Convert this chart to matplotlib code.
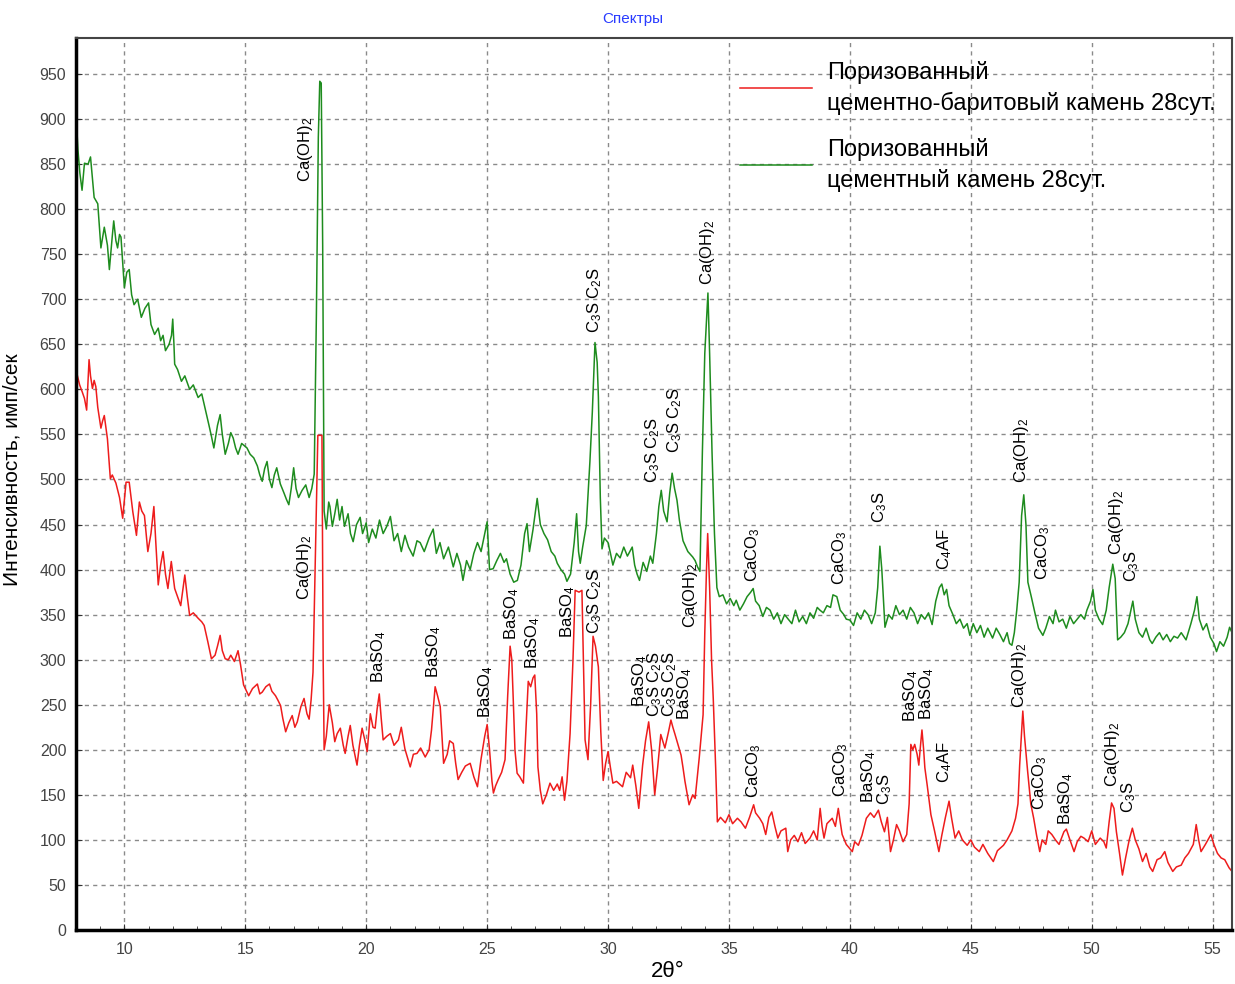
import matplotlib
matplotlib.use('Agg')
import matplotlib.pyplot as plt
from matplotlib.ticker import MultipleLocator

plt.rcParams['font.family'] = ['Liberation Sans', 'DejaVu Sans']
plt.rcParams['mathtext.default'] = 'regular'

# green: cement stone (2theta, intensity)
green_x = [8.0, 8.08, 8.16, 8.25, 8.35, 8.5, 8.6, 8.75, 8.9, 9.03, 9.17, 9.3, 9.38, 9.5, 9.56, 9.65, 9.72, 9.8, 9.86,
           10.0, 10.1, 10.2, 10.3, 10.4, 10.55, 10.7, 10.85, 11.0, 11.1, 11.25, 11.4, 11.5, 11.6, 11.7, 11.85, 11.95,
           12.0, 12.05, 12.08, 12.2, 12.36, 12.5, 12.7, 12.85, 13.05, 13.2, 13.33, 13.5, 13.6, 13.7, 13.85, 13.96,
           14.05, 14.17, 14.3, 14.4, 14.5, 14.6, 14.7, 14.85, 15.07, 15.2, 15.35, 15.5, 15.6, 15.7, 15.8, 15.9,
           16.0, 16.1, 16.2, 16.3, 16.45, 16.6, 16.7, 16.8, 16.9, 17.0, 17.1, 17.2, 17.35, 17.5, 17.64, 17.75, 17.85,
           17.94, 18.02, 18.08, 18.14, 18.2, 18.26, 18.35, 18.45, 18.5, 18.6, 18.7, 18.8, 18.9, 19.0, 19.1, 19.25,
           19.35, 19.46, 19.6, 19.75, 19.85, 20.0, 20.1, 20.25, 20.4, 20.55, 20.7, 20.85, 21.0, 21.15, 21.3, 21.45,
           21.6, 21.75, 21.94, 22.1, 22.23, 22.4, 22.6, 22.77, 22.9, 23.05, 23.2, 23.4, 23.6, 23.75, 23.9, 24.0,
           24.15, 24.3, 24.45, 24.6, 24.75, 24.9, 25.0, 25.1, 25.25, 25.4, 25.55, 25.7, 25.8, 25.95, 26.1, 26.25,
           26.4, 26.55, 26.65, 26.75, 26.9, 27.07, 27.2, 27.35, 27.5, 27.65, 27.8, 27.9, 28.05, 28.2, 28.3, 28.45,
           28.6, 28.7, 28.78, 28.85, 28.95, 29.1, 29.25, 29.35, 29.46, 29.55, 29.6, 29.68, 29.75, 29.85, 30.0,
           30.1, 30.2, 30.35, 30.5, 30.65, 30.8, 31.0, 31.1, 31.2, 31.3, 31.45, 31.6, 31.75, 31.85, 32.0, 32.1,
           32.2, 32.3, 32.44, 32.55, 32.65, 32.75, 32.85, 32.95, 33.1, 33.3, 33.5, 33.6, 33.7, 33.8, 33.9, 34.0,
           34.13, 34.2, 34.3, 34.4, 34.5, 34.6, 34.75, 34.9, 35.05, 35.2, 35.3, 35.45, 35.6, 35.75, 35.9, 36.0,
           36.1, 36.25, 36.4, 36.55, 36.7, 36.85, 37.0, 37.15, 37.3, 37.45, 37.6, 37.75, 37.9, 38.05, 38.2, 38.35,
           38.5, 38.65, 38.76, 38.9, 39.05, 39.2, 39.3, 39.46, 39.6, 39.75, 39.85, 40.0, 40.15, 40.3, 40.45, 40.6,
           40.75, 40.9, 41.05, 41.15, 41.24, 41.32, 41.45, 41.6, 41.75, 41.9, 42.05, 42.2, 42.35, 42.5, 42.65,
           42.8, 42.95, 43.1, 43.25, 43.4, 43.55, 43.7, 43.8, 43.9, 44.0, 44.1, 44.26, 44.4, 44.55, 44.7, 44.85,
           44.96, 45.1, 45.25, 45.4, 45.55, 45.7, 45.9, 46.05, 46.2, 46.35, 46.5, 46.6, 46.7, 46.8, 46.9, 47.0,
           47.1, 47.19, 47.28, 47.36, 47.5, 47.65, 47.8, 47.98, 48.1, 48.25, 48.4, 48.5, 48.65, 48.8, 48.95, 49.1,
           49.25, 49.4, 49.55, 49.7, 49.8, 49.95, 50.05, 50.15, 50.3, 50.45, 50.6, 50.72, 50.87, 50.97, 51.07,
           51.2, 51.35, 51.5, 51.7, 51.8, 51.95, 52.1, 52.25, 52.4, 52.5, 52.65, 52.8, 52.95, 53.1, 53.25, 53.4,
           53.55, 53.7, 53.9, 54.1, 54.25, 54.35, 54.45, 54.6, 54.75, 54.9, 55.05, 55.16, 55.3, 55.45, 55.6, 55.7,
           55.8]
green_y = [907, 866, 840, 821, 851, 850, 858, 813, 806, 757, 780, 760, 733, 770, 787, 765, 757, 772, 769,
           713, 730, 733, 705, 694, 700, 680, 690, 696, 672, 661, 668, 654, 660, 643, 650, 660,
           678, 650, 628, 622, 609, 615, 600, 605, 591, 595, 580, 560, 548, 535, 560, 572,
           550, 528, 540, 552, 546, 535, 528, 540, 535, 528, 524, 515, 505, 498, 512, 520,
           500, 491, 505, 513, 495, 485, 478, 472, 490, 513, 490, 480, 488, 494, 480, 490, 506,
           683, 880, 942, 940, 760, 465, 445, 475, 470, 448, 462, 478, 455, 470, 448, 462,
           440, 431, 450, 458, 440, 452, 430, 445, 435, 455, 440, 448, 459, 432, 440, 420,
           438, 425, 415, 432, 430, 420, 435, 445, 418, 430, 412, 425, 403, 418, 405, 388,
           410, 400, 418, 430, 420, 440, 453, 400, 401, 410, 418, 408, 412, 395, 386, 388,
           405, 440, 451, 420, 445, 479, 450, 440, 433, 420, 415, 407, 400, 395, 387, 395,
           430, 462, 420, 407, 425, 449, 520, 575, 652, 630, 592, 480, 423, 435, 430,
           418, 405, 418, 413, 425, 415, 425, 405, 395, 388, 408, 398, 415, 407, 440, 470,
           488, 465, 453, 485, 507, 490, 477, 455, 432, 420, 414, 410, 403, 398, 530, 640,
           707, 640, 530, 440, 380, 370, 372, 362, 368, 360, 366, 355, 362, 370, 375, 379,
           365, 360, 348, 358, 355, 345, 352, 340, 350, 345, 340, 355, 342, 348, 340, 352,
           346, 358, 355, 352, 360, 358, 372, 370, 355, 350, 345, 344, 338, 352, 345, 355,
           350, 340, 352, 380, 426, 400, 336, 350, 345, 360, 350, 355, 345, 358, 352,
           340, 350, 345, 352, 339, 365, 380, 384, 372, 378, 360, 350, 340, 345, 335, 340,
           327, 340, 330, 338, 325, 335, 324, 335, 328, 320, 330, 318, 316, 330, 355, 386,
           460, 483, 450, 386, 370, 352, 335, 327, 335, 348, 340, 355, 342, 345, 335, 348,
           340, 345, 350, 345, 355, 365, 378, 355, 345, 339, 355, 380, 406, 390, 322,
           325, 330, 340, 365, 345, 330, 325, 335, 322, 318, 325, 330, 322, 328, 320, 326,
           324, 330, 322, 340, 355, 370, 345, 333, 340, 325, 318, 309, 320, 315, 325, 336,
           330]

# red: cement-barite stone
red_x = [8.0, 8.05, 8.15, 8.26, 8.35, 8.44, 8.54, 8.6, 8.68, 8.75, 8.82, 8.9, 9.03, 9.1, 9.17, 9.3, 9.42, 9.5,
         9.65, 9.8, 9.93, 10.07, 10.2, 10.35, 10.5, 10.62, 10.72, 10.83, 10.97, 11.1, 11.22, 11.3, 11.4, 11.5,
         11.6, 11.7, 11.8, 11.94, 12.08, 12.2, 12.33, 12.5, 12.6, 12.7, 12.85, 13.05, 13.2, 13.3, 13.45, 13.6,
         13.75, 13.85, 13.96, 14.05, 14.17, 14.3, 14.4, 14.55, 14.7, 14.8, 14.93, 15.05, 15.14, 15.3, 15.5,
         15.6, 15.7, 15.85, 16.0, 16.1, 16.25, 16.35, 16.46, 16.55, 16.67, 16.8, 16.94, 17.05, 17.15, 17.3,
         17.43, 17.55, 17.64, 17.72, 17.8, 17.9, 18.0, 18.17, 18.22, 18.26, 18.35, 18.47, 18.6, 18.7, 18.8,
         18.93, 19.05, 19.13, 19.25, 19.34, 19.45, 19.62, 19.72, 19.83, 19.95, 20.04, 20.17, 20.28, 20.37,
         20.45, 20.54, 20.62, 20.7, 20.85, 21.0, 21.15, 21.33, 21.45, 21.6, 21.82, 21.95, 22.1, 22.25, 22.44,
         22.6, 22.7, 22.85, 22.95, 23.06, 23.2, 23.35, 23.45, 23.6, 23.7, 23.8, 23.95, 24.1, 24.3, 24.45, 24.6,
         24.75, 24.9, 25.0, 25.1, 25.2, 25.26, 25.35, 25.46, 25.6, 25.74, 25.85, 25.95, 26.02, 26.08, 26.15,
         26.24, 26.35, 26.5, 26.6, 26.7, 26.8, 26.9, 26.97, 27.05, 27.1, 27.2, 27.3, 27.45, 27.6, 27.75, 27.9,
         28.0, 28.1, 28.2, 28.3, 28.43, 28.55, 28.64, 28.8, 28.92, 28.98, 29.05, 29.17, 29.28, 29.38, 29.48,
         29.6, 29.7, 29.8, 29.9, 30.0, 30.1, 30.2, 30.35, 30.6, 30.75, 30.93, 31.02, 31.15, 31.27, 31.43, 31.55,
         31.68, 31.8, 31.93, 32.05, 32.18, 32.35, 32.5, 32.6, 32.68, 32.77, 32.9, 33.02, 33.1, 33.18, 33.35,
         33.5, 33.6, 33.77, 33.85, 33.93, 34.0, 34.07, 34.12, 34.2, 34.28, 34.35, 34.45, 34.52, 34.65, 34.85,
         35.0, 35.15, 35.35, 35.5, 35.68, 35.85, 36.02, 36.1, 36.27, 36.4, 36.52, 36.65, 36.77, 36.9, 37.02,
         37.15, 37.35, 37.43, 37.55, 37.7, 37.85, 38.0, 38.15, 38.35, 38.5, 38.65, 38.77, 38.85, 38.93, 39.05,
         39.27, 39.4, 39.52, 39.6, 39.68, 39.85, 40.1, 40.2, 40.35, 40.5, 40.68, 40.85, 41.0, 41.18, 41.3,
         41.43, 41.55, 41.68, 41.8, 41.93, 42.05, 42.2, 42.35, 42.45, 42.52, 42.6, 42.68, 42.78, 42.85, 42.92,
         42.98, 43.05, 43.1, 43.2, 43.35, 43.5, 43.68, 43.8, 43.95, 44.1, 44.2, 44.35, 44.5, 44.65, 44.85, 45.0,
         45.15, 45.35, 45.5, 45.7, 45.93, 46.1, 46.35, 46.5, 46.7, 46.85, 46.95, 47.02, 47.1, 47.15, 47.22,
         47.35, 47.48, 47.6, 47.72, 47.85, 47.95, 48.1, 48.2, 48.35, 48.5, 48.65, 48.85, 48.95, 49.1, 49.27,
         49.4, 49.55, 49.68, 49.85, 50.0, 50.15, 50.35, 50.5, 50.6, 50.72, 50.82, 50.92, 51.02, 51.15, 51.27,
         51.4, 51.55, 51.68, 51.8, 51.95, 52.1, 52.25, 52.4, 52.52, 52.7, 52.85, 53.02, 53.15, 53.35, 53.5,
         53.7, 53.85, 54.0, 54.2, 54.32, 54.42, 54.52, 54.7, 54.93, 55.05, 55.2, 55.35, 55.5, 55.68, 55.8]
red_y = [657, 616, 605, 597, 590, 577, 633, 615, 601, 610, 603, 580, 557, 565, 571, 545, 501, 505,
         496, 480, 457, 497, 497, 464, 438, 475, 465, 460, 420, 440, 470, 430, 383, 405,
         420, 395, 379, 409, 379, 370, 360, 394, 370, 349, 352, 346, 342, 338, 320, 301,
         305, 315, 327, 310, 301, 300, 305, 298, 310, 295, 272, 265, 260, 268, 273,
         262, 264, 270, 273, 265, 260, 255, 249, 235, 220, 230, 238, 225, 231, 248,
         257, 240, 234, 255, 286, 416, 549, 549, 300, 200, 215, 250, 230, 209, 218,
         224, 205, 196, 215, 227, 205, 183, 205, 224, 210, 198, 240, 225, 224,
         245, 262, 235, 211, 215, 218, 205, 211, 225, 201, 181, 195, 196, 202, 192,
         200, 222, 270, 260, 248, 185, 195, 210, 207, 185, 167, 175, 182, 185, 170, 159,
         190, 215, 228, 200, 165, 152, 160, 167, 175, 189, 260, 315, 300, 256, 200,
         174, 170, 163, 220, 276, 270, 280, 283, 240, 181, 155, 140, 150, 163, 155, 162,
         155, 170, 144, 165, 218, 300, 377, 375, 377, 300, 211, 189, 250, 326, 315,
         292, 220, 166, 185, 198, 180, 163, 165, 159, 175, 169, 183, 160, 135, 183, 210,
         231, 200, 150, 180, 217, 202, 220, 233, 225, 217, 205, 194, 180, 165, 139,
         150, 146, 191, 215, 239, 330, 400, 440, 380, 300, 257, 180, 120, 125, 119,
         128, 118, 124, 120, 113, 125, 139, 130, 124, 118, 106, 125, 131, 115, 102,
         110, 113, 87, 100, 105, 98, 108, 96, 102, 110, 100, 135, 115, 102, 118,
         124, 115, 135, 120, 106, 95, 87, 98, 94, 105, 124, 130, 125, 133, 120,
         109, 125, 87, 100, 117, 110, 98, 106, 140, 206, 200, 206, 195, 183, 205,
         222, 200, 180, 160, 128, 110, 87, 105, 125, 143, 125, 102, 110, 100, 94, 100,
         92, 87, 95, 85, 76, 88, 94, 100, 110, 124, 140, 183, 220, 243, 215,
         176, 140, 124, 105, 87, 100, 95, 110, 106, 100, 95, 109, 112, 100, 87,
         98, 104, 102, 98, 110, 95, 102, 98, 91, 120, 141, 135, 109, 85, 61,
         80, 100, 113, 100, 90, 76, 85, 70, 65, 78, 80, 87, 75, 65, 70,
         72, 80, 85, 95, 117, 100, 87, 95, 106, 95, 85, 80, 78, 69, 65]

CAOH = 'Ca(OH)$_2$'
C3S = 'C$_3$S'
C3S_C2S = 'C$_3$S C$_2$S'
BASO = 'BaSO$_4$'
CACO = 'CaCO$_3$'
C4AF = 'C$_4$AF'

# peak labels: 2theta, bottom of text (intensity), phase
labels = [
    (17.48, 830, CAOH), (29.46, 663, C3S_C2S), (34.13, 716, CAOH), (31.86, 496, C3S_C2S),
    (32.77, 529, C3S_C2S), (35.99, 386, CACO), (39.59, 383, CACO), (41.24, 452, C3S),
    (43.93, 400, C4AF), (47.1, 496, CAOH), (47.98, 388, CACO), (51.03, 416, CAOH), (51.65, 386, C3S),
    (17.44, 366, CAOH), (20.5, 274, BASO), (22.77, 280, BASO), (24.92, 235, BASO), (26.03, 322, BASO),
    (26.9, 290, BASO), (28.35, 324, BASO), (29.46, 329, C3S_C2S), (33.39, 335, CAOH),
    (31.32, 248, BASO), (31.94, 236, C3S_C2S), (32.56, 236, C3S_C2S), (33.18, 233, BASO),
    (36.02, 146, CACO), (39.6, 148, CACO), (40.77, 141, BASO), (41.43, 139, C3S),
    (42.52, 231, BASO), (43.18, 233, BASO), (43.93, 163, C4AF), (47.0, 246, CAOH),
    (47.85, 133, CACO), (48.93, 117, BASO), (50.85, 159, CAOH), (51.52, 130, C3S),
]

fig = plt.figure(figsize=(12.35, 9.84), dpi=100)
ax = fig.add_axes([76 / 1235, 54 / 984, 1156 / 1235, 892 / 984])

ax.plot(red_x, red_y, color='#ee1c1c', lw=1.1,
        label='Поризованный\nцементно-баритовый камень 28сут.')
ax.plot(green_x, green_y, color='#1e8c1e', lw=1.1,
        label='Поризованный\nцементный камень 28сут.')

for x, y, t in labels:
    ax.text(x, y, t, rotation=90, ha='center', va='bottom', fontsize=12, color='black')

ax.set_xlim(8, 55.8)
ax.set_ylim(0, 990)
ax.xaxis.set_major_locator(MultipleLocator(5))
ax.xaxis.set_minor_locator(MultipleLocator(1))
ax.set_yticks(range(0, 1000, 50))
ax.tick_params(axis='both', which='major', labelsize=11.5, labelcolor='#444444',
               direction='in', length=4, color='#333333')
ax.tick_params(axis='x', which='major', pad=9)
ax.tick_params(axis='y', which='major', pad=7)
ax.tick_params(axis='x', which='minor', direction='in', length=3, color='#333333')
ax.grid(True, which='major', color='#8a8a8a', linestyle=(0, (3, 3)), lw=1.0)

for side in ['left', 'bottom']:
    ax.spines[side].set_linewidth(2.5)
    ax.spines[side].set_color('black')
for side in ['top', 'right']:
    ax.spines[side].set_linewidth(1.5)
    ax.spines[side].set_color('#444444')

ax.set_xlabel('2θ°', fontsize=16)
ax.xaxis.set_label_coords(0.512, -0.035)
ax.set_ylabel('Интенсивность, имп/сек', fontsize=15)
ax.yaxis.set_label_coords(-0.047, 0.516)

fig.text(633 / 1235, 1 - 19 / 984, 'Спектры', color='#2a3cff', fontsize=11, ha='center', va='center')

leg = ax.legend(loc='upper left', bbox_to_anchor=(740 / 1235, 1 - 61 / 984),
                bbox_transform=fig.transFigure, frameon=False, fontsize=17,
                handlelength=3.05, handletextpad=0.64, labelspacing=0.95,
                borderpad=0, borderaxespad=0)
for t in leg.get_texts():
    t.set_linespacing(1.45)

fig.savefig('out.png', dpi=100)
